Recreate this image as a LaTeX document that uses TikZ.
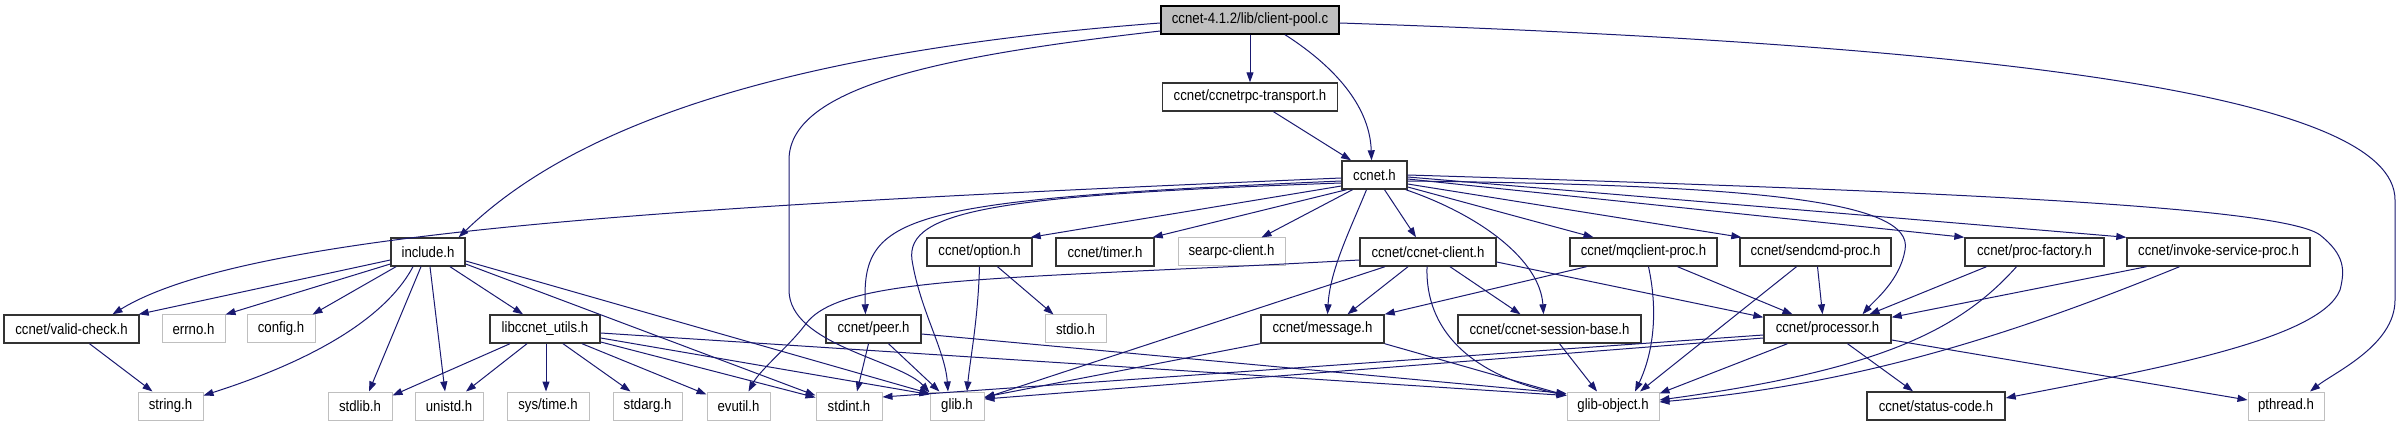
\documentclass[tikz,border=0pt]{standalone}
\usepackage{fontspec}
\newfontfamily\dotfont[FakeStretch=0.88]{Liberation Sans}
\usetikzlibrary{arrows.meta}
\definecolor{edgeblue}{HTML}{191970}
\definecolor{nodegray}{HTML}{BFBFBF}

\begin{document}
\begin{tikzpicture}[x=1pt, y=-1pt,
  file/.style={draw, minimum height=28, inner sep=0, font=\dotfont\fontsize{15}{18}\selectfont},
  doc/.style={file, draw=black!80, line width=1.4},
  sys/.style={file, draw=nodegray, line width=1},
  dep/.style={edgeblue, line width=1, -{Triangle[length=10pt,width=7pt]}}]
\useasboundingbox (0,0) rectangle (2403,427);
% --- top: source file and its first includes ---
\node[doc, fill=nodegray, draw=black, minimum width=178] (cp) at (1250,20) {ccnet-4.1.2/lib/client-pool.c};
\node[doc, minimum width=175] (rpc) at (1250,97) {ccnet/ccnetrpc-transport.h};
\node[doc, minimum width=65] (ccnet) at (1374.5,175) {ccnet.h};
% --- second row ---
\node[doc, minimum width=74] (inc) at (428,252) {include.h};
\node[doc, minimum width=105] (opt) at (979.5,252) {ccnet/option.h};
\node[doc, minimum width=98] (tim) at (1105,252) {ccnet/timer.h};
\node[sys, minimum width=107] (sea) at (1231.5,252) {searpc-client.h};
\node[doc, minimum width=136] (cli) at (1428,252) {ccnet/ccnet-client.h};
\node[doc, minimum width=147] (mqc) at (1643.5,252) {ccnet/mqclient-proc.h};
\node[doc, minimum width=151] (snd) at (1815.5,252) {ccnet/sendcmd-proc.h};
\node[doc, minimum width=139] (pfac) at (2034.5,252) {ccnet/proc-factory.h};
\node[doc, minimum width=183] (inv) at (2218.5,252) {ccnet/invoke-service-proc.h};
% --- third row ---
\node[doc, minimum width=135] (vchk) at (71.5,329) {ccnet/valid-check.h};
\node[sys, minimum width=63] (errno) at (193.5,329) {errno.h};
\node[sys, minimum width=68] (cfg) at (281,329) {config.h};
\node[doc, minimum width=110] (lcu) at (545,329) {libccnet\_utils.h};
\node[doc, minimum width=95] (peer) at (873.5,329) {ccnet/peer.h};
\node[sys, minimum width=61] (stdio) at (1075.5,329) {stdio.h};
\node[doc, minimum width=123] (msg) at (1322.5,329) {ccnet/message.h};
\node[doc, minimum width=183] (ssb) at (1549.5,329) {ccnet/ccnet-session-base.h};
\node[doc, minimum width=127] (proc) at (1827.5,329) {ccnet/processor.h};
% --- bottom row ---
\node[sys, minimum width=65] (str) at (170.5,406) {string.h};
\node[sys, minimum width=64] (stdlib) at (360,406) {stdlib.h};
\node[sys, minimum width=68] (unistd) at (449,406) {unistd.h};
\node[sys, minimum width=82] (systime) at (548,406) {sys/time.h};
\node[sys, minimum width=69] (stdarg) at (647.5,406) {stdarg.h};
\node[sys, minimum width=63] (evutil) at (738.5,406) {evutil.h};
\node[sys, minimum width=66] (stdint) at (849,406) {stdint.h};
\node[sys, minimum width=54] (glib) at (957,406) {glib.h};
\node[sys, minimum width=92] (gobj) at (1613,406) {glib-object.h};
\node[doc, minimum width=138] (stat) at (1936,406) {ccnet/status-code.h};
\node[sys, minimum width=76] (pth) at (2286,406) {pthread.h};

% --- client-pool.c ---
\draw[dep] ([yshift=-3]cp.west) .. controls (800,50) and (580,120) .. ([xshift=-7]inc.north east);
\draw[dep] (cp.south) -- (rpc.north);
\draw[dep] ([xshift=35]cp.south) .. controls (1340,70) and (1370,110) .. ([xshift=-3]ccnet.north);
\draw[dep] ([yshift=-11]cp.west) .. controls (950,55) and (789,85) .. (789,160) -- (789,290) .. controls (789,345) and (900,360) .. ([yshift=-1]glib.north west);
\draw[dep] ([yshift=-3]cp.east) .. controls (2000,45) and (2395,95) .. (2395,200) -- (2395,300) .. controls (2395,345) and (2335,372) .. ([xshift=24]pth.north);
\draw[dep] (rpc) -- (ccnet);
% --- ccnet.h ---
\draw[dep] ([yshift=-3]ccnet.west) .. controls (700,205) and (250,230) .. ([xshift=41]vchk.north);
\draw[dep] ([yshift=-6]ccnet.west) .. controls (900,200) and (862,215) .. ([xshift=-8]peer.north);
\draw[dep] ([yshift=-8]ccnet.west) .. controls (1000,195) and (905,210) .. (912,260) .. controls (920,310) and (945,350) .. ([xshift=-9]glib.north);
\draw[dep] ([yshift=-11]ccnet.west) -- ([xshift=-2]opt.north east);
\draw[dep] ([xshift=-28]ccnet.south) -- ([xshift=-2]tim.north east);
\draw[dep] ([xshift=-22]ccnet.south) -- ([xshift=30]sea.north);
\draw[dep] ([xshift=-8]ccnet.south) .. controls (1350,230) and (1330,270) .. ([xshift=5]msg.north);
\draw[dep] ([xshift=10]ccnet.south) -- ([xshift=-12]cli.north);
\draw[dep] ([xshift=-2]ccnet.south east) .. controls (1480,215) and (1540,260) .. ([xshift=-6]ssb.north);
\draw[dep] ([yshift=-12]ccnet.east) -- ([xshift=-50]mqc.north);
\draw[dep] ([yshift=-9]ccnet.east) -- ([xshift=2]snd.north west);
\draw[dep] ([yshift=-6]ccnet.east) .. controls (1750,185) and (1915,200) .. (1905,250) .. controls (1900,280) and (1875,300) .. ([xshift=35]proc.north);
\draw[dep] ([yshift=-4]ccnet.east) -- (pfac.north west);
\draw[dep] ([yshift=-2]ccnet.east) -- (inv.north west);
\draw[dep] (ccnet.east) .. controls (1900,190) and (2280,205) .. (2320,235) .. controls (2345,255) and (2345,270) .. (2340,290) .. controls (2320,340) and (2150,370) .. ([yshift=8]stat.east);
% --- include.h ---
\draw[dep] ([yshift=-8]inc.west) -- ([xshift=-1]vchk.north east);
\draw[dep] ([yshift=-12]inc.west) -- (errno.north east);
\draw[dep] ([xshift=-32]inc.south) -- ([xshift=-3]cfg.north east);
\draw[dep] ([xshift=-15]inc.south) .. controls (390,310) and (330,355) .. ([yshift=-4]str.north east);
\draw[dep] ([xshift=-7]inc.south) -- ([xshift=9]stdlib.north);
\draw[dep] ([xshift=2]inc.south) -- ([xshift=-4]unistd.north);
\draw[dep] ([xshift=22]inc.south) -- ([xshift=-22]lcu.north);
\draw[dep] ([yshift=-12]inc.east) -- ([yshift=-4]stdint.north west);
\draw[dep] ([yshift=-9]inc.east) -- ([yshift=-2]glib.north west);
% --- libccnet_utils.h ---
\draw[dep] ([xshift=-35]lcu.south) -- ([yshift=-4]stdlib.north east);
\draw[dep] ([xshift=-18]lcu.south) -- ([xshift=17]unistd.north);
\draw[dep] ([xshift=1]lcu.south) -- ([xshift=-2]systime.north);
\draw[dep] ([xshift=18]lcu.south) -- ([xshift=-17]stdarg.north);
\draw[dep] ([xshift=37]lcu.south) -- ([yshift=-3]evutil.north west);
\draw[dep] ([yshift=-13]lcu.east) -- ([yshift=-6]stdint.north west);
\draw[dep] ([yshift=-9]lcu.east) -- ([yshift=-3]glib.north west);
\draw[dep] ([yshift=-4]lcu.east) -- ([yshift=-4]gobj.north west);
\draw[dep] ([xshift=18]vchk.south) -- ([xshift=-18]str.north);
% --- option.h, peer.h ---
\draw[dep] (opt.south) .. controls (978,320) and (970,360) .. ([xshift=10]glib.north);
\draw[dep] ([xshift=18]opt.south) -- ([xshift=-22]stdio.north);
\draw[dep] ([xshift=-5]peer.south) -- ([xshift=8]stdint.north);
\draw[dep] ([xshift=15]peer.south) -- ([xshift=10]glib.north west);
\draw[dep] ([yshift=-5]peer.east) -- ([yshift=-2]gobj.north west);
% --- ccnet-client.h ---
\draw[dep] ([yshift=-8]cli.west) .. controls (1000,280) and (840,275) .. (805,325) .. controls (790,345) and (760,370) .. ([xshift=10]evutil.north);
\draw[dep] ([xshift=-43]cli.south) -- ([yshift=8]glib.east);
\draw[dep] ([xshift=-20]cli.south) -- ([xshift=25]msg.north);
\draw[dep] ([xshift=-1]cli.south) .. controls (1425,330) and (1470,375) .. ([yshift=-4]gobj.north west);
\draw[dep] ([xshift=22]cli.south) -- ([xshift=-29]ssb.north);
\draw[dep] ([yshift=-10]cli.east) -- ([yshift=-3]proc.north west);
% --- message.h, session-base ---
\draw[dep] (msg.south west) -- ([yshift=9]glib.east);
\draw[dep] (msg.south east) -- ([yshift=-4]gobj.north west);
\draw[dep] ([xshift=10]ssb.south) -- ([xshift=-16]gobj.north);
% --- proc headers ---
\draw[dep] ([xshift=-57]mqc.south) -- (msg.north east);
\draw[dep] ([xshift=5]mqc.south) .. controls (1660,320) and (1650,360) .. ([xshift=22]gobj.north);
\draw[dep] ([xshift=34]mqc.south) -- ([xshift=-35]proc.north);
\draw[dep] ([xshift=-19]snd.south) -- ([xshift=27]gobj.north);
\draw[dep] ([xshift=2]snd.south) -- ([xshift=-5]proc.north);
\draw[dep] ([xshift=-48]pfac.south) -- ([xshift=42]proc.north);
\draw[dep] ([xshift=-18]pfac.south) .. controls (1960,330) and (1880,370) .. ([yshift=6]gobj.east);
\draw[dep] ([xshift=-72]inv.south) -- ([yshift=-3]proc.north east);
\draw[dep] ([xshift=-39]inv.south) .. controls (2000,340) and (1850,385) .. ([yshift=4]gobj.east);
% --- processor.h ---
\draw[dep] ([yshift=-6]proc.west) -- ([yshift=9]stdint.east);
\draw[dep] ([yshift=-9]proc.west) -- ([yshift=7]glib.east);
\draw[dep] ([xshift=-40]proc.south) -- ([yshift=-2]gobj.north east);
\draw[dep] ([xshift=20]proc.south) -- ([xshift=-23]stat.north);
\draw[dep] ([yshift=-11]proc.east) -- ([yshift=6]pth.west);
\end{tikzpicture}
\end{document}
